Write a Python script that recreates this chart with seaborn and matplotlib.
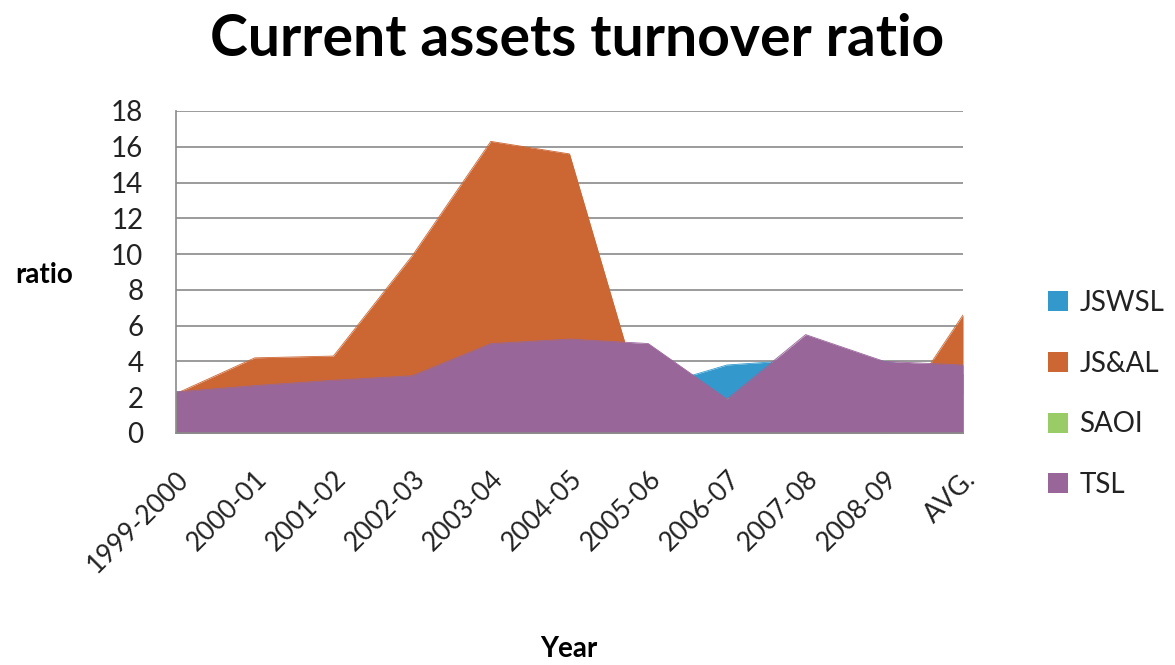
import numpy as np
import pandas as pd
import seaborn as sns
import matplotlib.pyplot as plt
from matplotlib.patches import Patch

# dati (ratio per anno)
anni = ["1999-2000", "2000-01", "2001-02", "2002-03", "2003-04", "2004-05",
        "2005-06", "2006-07", "2007-08", "2008-09", "AVG."]
jswsl = [2.3, 2.4, 2.5, 2.7, 3.0, 3.4, 2.5, 3.8, 4.1, 4.0, 3.3]
jsal = [2.2, 4.2, 4.3, 9.9, 16.3, 15.6, 0.6, 1.2, 0.8, 0.0, 6.6]
saoi = [1.6, 1.8, 2.0, 2.2, 2.5, 2.8, 2.6, 1.9, 2.4, 2.2, 2.2]
tsl = [2.3, 2.65, 2.95, 3.2, 5.0, 5.25, 5.0, 1.9, 5.5, 4.0, 3.8]

serie = ["JSWSL", "JS&AL", "SAOI", "TSL"]
colori = ["#3399cc", "#cc6633", "#99cc66", "#996699"]

df = pd.DataFrame({"pos": np.arange(len(anni)), "JSWSL": jswsl, "JS&AL": jsal,
                   "SAOI": saoi, "TSL": tsl})
df_long = df.melt(id_vars="pos", var_name="serie", value_name="ratio")

sns.set_theme(style="white")
plt.rcParams["font.family"] = ["Lato", "DejaVu Sans"]

fig = plt.figure(figsize=(11.75, 6.65), dpi=100)
ax = fig.add_axes([0.1498, 0.3489, 0.6698, 0.4842])

# aree sovrapposte, in ordine come in Excel (TSL sopra)
for i, (nome, col) in enumerate(zip(serie, colori)):
    ax.fill_between(df["pos"], 0, df[nome], color=col, lw=0, zorder=2 + i)
sns.lineplot(data=df_long, x="pos", y="ratio", hue="serie", hue_order=serie,
             palette=colori, lw=0.6, legend=False, ax=ax, zorder=2)
for i, line in enumerate(ax.lines):
    line.set_zorder(2 + i)

ax.set_xlim(0, len(anni) - 1)
ax.set_ylim(0, 18)
ax.set_yticks(range(0, 19, 2))
ax.set_xticks(df["pos"])
ax.set_xticklabels(anni, rotation=45, ha="right", rotation_mode="anchor")
ax.yaxis.grid(True, color="#8a8a8a", lw=1.2, zorder=1)
ax.set_axisbelow(True)
for s in ["top", "right"]:
    ax.spines[s].set_visible(False)
for s in ["left", "bottom"]:
    ax.spines[s].set_color("#8a8a8a")
    ax.spines[s].set_linewidth(1.2)
    ax.spines[s].set_zorder(10)
ax.tick_params(axis="both", colors="#8a8a8a", width=1.2, labelcolor="#222222")
ax.tick_params(axis="x", direction="out", length=7, pad=17, labelsize=19)
ax.tick_params(axis="y", direction="out", length=9.5, pad=14, labelsize=20)
ax.set_xlabel("")
ax.set_ylabel("")

fig.text(0.491, 0.94, "Current assets turnover ratio", ha="center", va="center",
         fontsize=41, fontweight="bold", color="black")
fig.text(0.0377, 0.586, "ratio", ha="center", va="center", fontsize=20,
         fontweight="bold", color="black")
fig.text(0.484, 0.024, "Year", ha="center", va="center", fontsize=20,
         fontweight="bold", color="black")

handles = [Patch(facecolor=c, edgecolor="none") for c in colori]
fig.legend(handles, serie, loc="center left", bbox_to_anchor=(0.871, 0.4075),
           frameon=False, fontsize=20, handlelength=0.72, handleheight=0.72,
           handletextpad=0.4, labelspacing=1.25, labelcolor="#222222")

fig.savefig("out.png", dpi=100)
